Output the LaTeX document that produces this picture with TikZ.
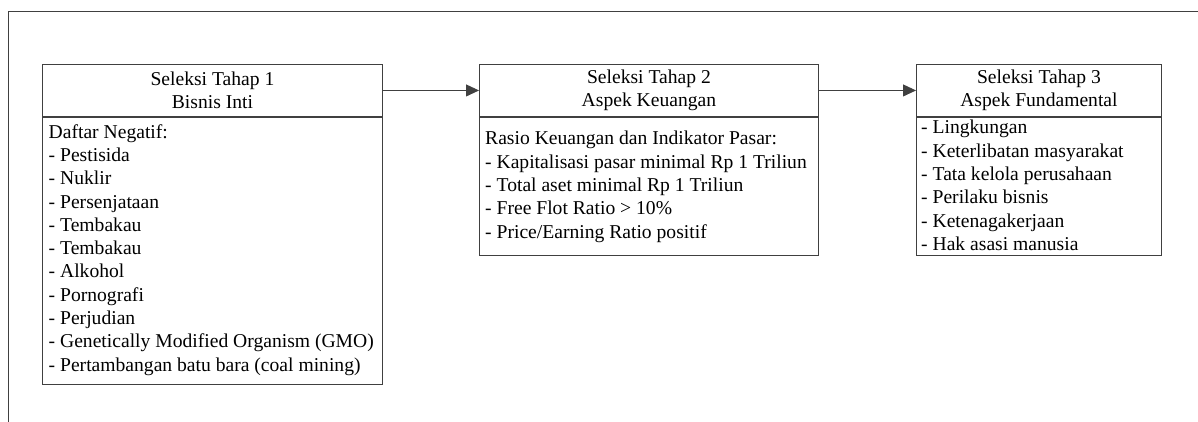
\documentclass[tikz,border=0pt]{standalone}
\usepackage{fontspec}
\setmainfont{Liberation Serif}
\usetikzlibrary{arrows.meta,calc}
\begin{document}
\begin{tikzpicture}[x=1pt,y=-1pt,
  font=\fontsize{19.6}{23.3}\selectfont,
  ln/.style={draw=black!75, line width=0.9pt},
  head/.style={ln, minimum height=52pt, inner sep=0pt, align=center, anchor=north west},
  body/.style={ln, inner sep=0pt, anchor=north west},
  list/.style={inner sep=0pt, anchor=base west}]
\tikzset{flow/.style={ln, -{Triangle[length=13pt,width=12pt]}}}
\useasboundingbox (0,0) rectangle (1198,422);
% outer frame
\draw[ln] (8,422) -- (8,11) -- (1198,11);

% stage 1
\node[head, minimum width=340pt] (h1) at (42,64) {Seleksi Tahap 1\\Bisnis Inti};
\node[body, minimum width=340pt, minimum height=266.7pt] (b1) at (h1.south west) {};
\node[list] (t1) at ($(b1.north west)+(6.5,21.3)$)
  {\vtop{\hbox{Daftar Negatif:}\hbox{- Pestisida}\hbox{- Nuklir}\hbox{- Persenjataan}\hbox{- Tembakau}\hbox{- Tembakau}\hbox{- Alkohol}\hbox{- Pornografi}\hbox{- Perjudian}\hbox{- Genetically Modified Organism (GMO)}\hbox{- Pertambangan batu bara (coal mining)}}};

% stage 2
\node[head, minimum width=339pt] (h2) at (479,64) {Seleksi Tahap 2\\Aspek Keuangan};
\node[body, minimum width=339pt, minimum height=138.3pt] (b2) at (h2.south west) {};
\node[list] (t2) at ($(b2.north west)+(6,28)$)
  {\vtop{\hbox{Rasio Keuangan dan Indikator Pasar:}\hbox{- Kapitalisasi pasar minimal Rp 1 Triliun}\hbox{- Total aset minimal Rp 1 Triliun}\hbox{- Free Flot Ratio > 10\%}\hbox{- Price/Earning Ratio positif}}};

% stage 3
\node[head, minimum width=245pt] (h3) at (916,64) {Seleksi Tahap 3\\Aspek Fundamental};
\node[body, minimum width=245pt, minimum height=138.3pt] (b3) at (h3.south west) {};
\node[list] (t3) at ($(b3.north west)+(5,17)$)
  {\vtop{\hbox{- Lingkungan}\hbox{- Keterlibatan masyarakat}\hbox{- Tata kelola perusahaan}\hbox{- Perilaku bisnis}\hbox{- Ketenagakerjaan}\hbox{- Hak asasi manusia}}};

% flow between stages
\draw[flow] (h1.east) -- (h2.west);
\draw[flow] (h2.east) -- (h3.west);
\end{tikzpicture}
\end{document}
